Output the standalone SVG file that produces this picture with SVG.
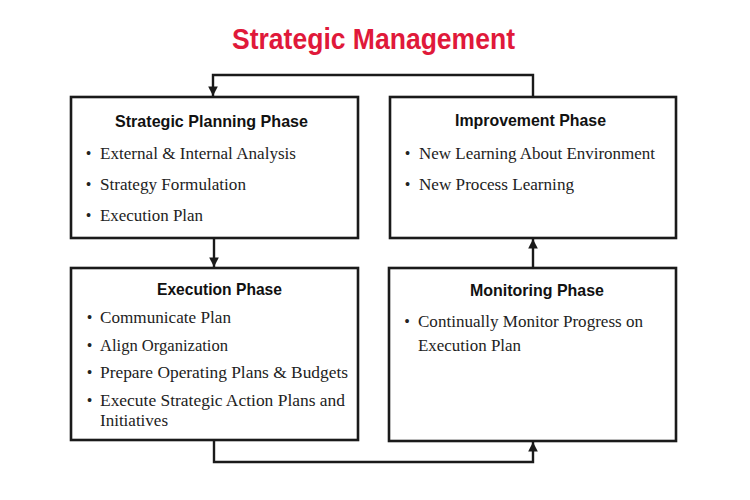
<svg xmlns="http://www.w3.org/2000/svg" width="750" height="500" viewBox="0 0 750 500">
<style>
.box{fill:#fff;stroke:#1a1a1a;stroke-width:2.6}
.title{font-family:"Liberation Sans",Arial,sans-serif;font-weight:bold;font-size:29px;fill:#e0193a}
.hd{font-family:"Liberation Sans",Arial,sans-serif;font-weight:bold;font-size:16.5px;fill:#111}
.it{font-family:"Liberation Serif","Times New Roman",serif;font-size:16px;fill:#222}
.bl{font-family:"Liberation Serif","Times New Roman",serif;font-size:16px;fill:#222;text-anchor:middle}
.cn{fill:none;stroke:#1a1a1a;stroke-width:2.4}
</style>
<defs>
<marker id="ah" viewBox="0 0 10 10" refX="10" refY="5" markerWidth="4" markerHeight="4" markerUnits="strokeWidth" orient="auto">
<path d="M0,0 L10,5 L0,10 Z" fill="#1a1a1a"/>
</marker>
</defs>
<rect width="750" height="500" fill="#fff"/>
<text class="title" x="373.5" y="49" text-anchor="middle" textLength="283" lengthAdjust="spacingAndGlyphs">Strategic Management</text>
<g id="connectors">
<path class="cn" d="M533,97 V75 H213 V96" marker-end="url(#ah)"/>
<path class="cn" d="M214,238 V267" marker-end="url(#ah)"/>
<path class="cn" d="M214,440 V462 H533 V442" marker-end="url(#ah)"/>
<path class="cn" d="M533,268 V239" marker-end="url(#ah)"/>
</g>
<g id="planning">
<rect class="box" x="71" y="97" width="287" height="141"/>
<text class="hd" x="211.5" y="127" text-anchor="middle" textLength="193" lengthAdjust="spacingAndGlyphs">Strategic Planning Phase</text>
<text class="bl" x="88.5" y="159">•</text>
<text class="it" x="100" y="159" textLength="196" lengthAdjust="spacingAndGlyphs">External &amp; Internal Analysis</text>
<text class="bl" x="88.5" y="190">•</text>
<text class="it" x="100" y="190" textLength="146" lengthAdjust="spacingAndGlyphs">Strategy Formulation</text>
<text class="bl" x="88.5" y="221">•</text>
<text class="it" x="100" y="221" textLength="103" lengthAdjust="spacingAndGlyphs">Execution Plan</text>
</g>
<g id="improvement">
<rect class="box" x="390" y="97" width="286" height="141"/>
<text class="hd" x="530.5" y="126" text-anchor="middle" textLength="151" lengthAdjust="spacingAndGlyphs">Improvement Phase</text>
<text class="bl" x="407.5" y="159">•</text>
<text class="it" x="419" y="159" textLength="236" lengthAdjust="spacingAndGlyphs">New Learning About Environment</text>
<text class="bl" x="407.5" y="190">•</text>
<text class="it" x="419" y="190" textLength="155" lengthAdjust="spacingAndGlyphs">New Process Learning</text>
</g>
<g id="execution">
<rect class="box" x="71" y="268" width="287" height="172"/>
<text class="hd" x="219.5" y="295" text-anchor="middle" textLength="125" lengthAdjust="spacingAndGlyphs">Execution Phase</text>
<text class="bl" x="89.5" y="323">•</text>
<text class="it" x="100" y="323" textLength="131" lengthAdjust="spacingAndGlyphs">Communicate Plan</text>
<text class="bl" x="89.5" y="351">•</text>
<text class="it" x="100" y="351" textLength="128" lengthAdjust="spacingAndGlyphs">Align Organization</text>
<text class="bl" x="89.5" y="378">•</text>
<text class="it" x="100" y="378" textLength="248" lengthAdjust="spacingAndGlyphs">Prepare Operating Plans &amp; Budgets</text>
<text class="bl" x="89.5" y="406">•</text>
<text class="it" x="100" y="406" textLength="245" lengthAdjust="spacingAndGlyphs">Execute Strategic Action Plans and</text>
<text class="it" x="100" y="426" textLength="68" lengthAdjust="spacingAndGlyphs">Initiatives</text>
</g>
<g id="monitoring">
<rect class="box" x="389" y="268" width="287" height="173"/>
<text class="hd" x="537" y="296" text-anchor="middle" textLength="134" lengthAdjust="spacingAndGlyphs">Monitoring Phase</text>
<text class="bl" x="407" y="327">•</text>
<text class="it" x="418" y="327" textLength="225" lengthAdjust="spacingAndGlyphs">Continually Monitor Progress on</text>
<text class="it" x="418" y="351" textLength="103" lengthAdjust="spacingAndGlyphs">Execution Plan</text>
</g>
</svg>
